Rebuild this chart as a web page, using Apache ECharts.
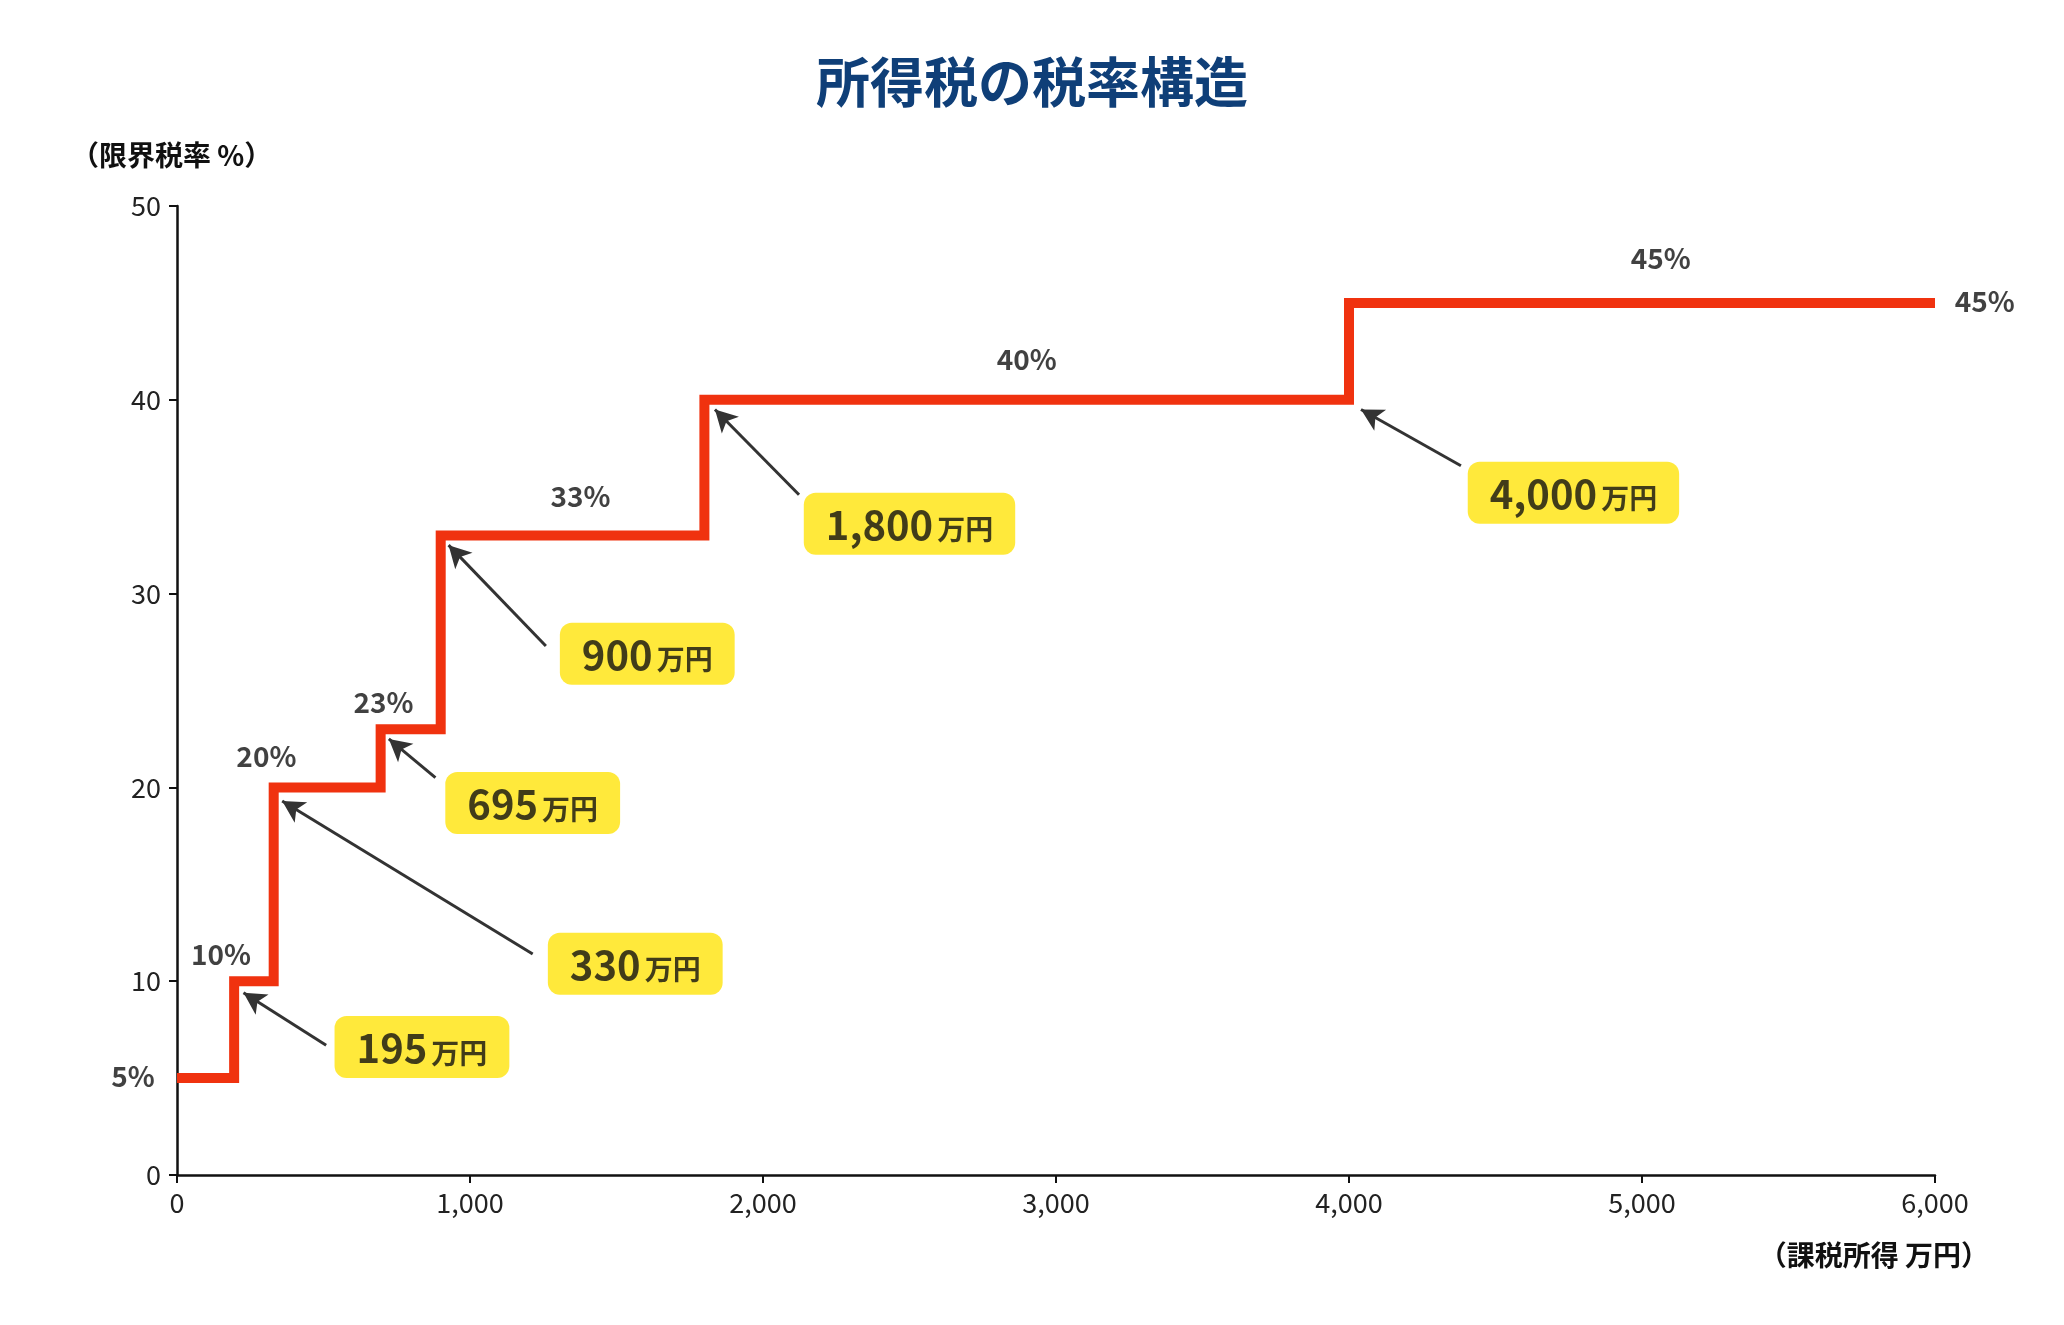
<!DOCTYPE html>
<html><head><meta charset="utf-8">
<script src="https://cdn.jsdelivr.net/npm/echarts@6/dist/echarts.min.js"></script>
<style>html,body{margin:0;padding:0;background:#fff}#c{width:2064px;height:1325px}</style>
</head><body><div id="c"></div>
<script>
const thresholds = [0, 195, 330, 695, 900, 1800, 4000, 6000];
const rates = [5, 10, 20, 23, 33, 40, 45];
const rateLabelPos = [[-150,5.1],[150,11.4],[305,21.6],[705,24.4],[1377,35],[2900,42.1],[5064,47.3],[6170,45.1]];
const rateLabelText = ['5%','10%','20%','23%','33%','40%','45%','45%'];
const calloutText = ['195','330','695','900','1,800','4,000'];
const calloutPos = [[836,6.6],[1564,10.9],[1214,19.2],[1605,26.9],[2500,33.6],[4766,35.2]];
const arrowFrom = [[509,6.7],[1214,11.4],[882,20.5],[1259,27.3],[2123,35.1],[4382,36.6]];
const arrowTo = [[227,9.4],[359,19.3],[723,22.5],[927,32.5],[1836,39.5],[4041,39.5]];
const xTicks = [0,1000,2000,3000,4000,5000,6000];

const stepData = [];
for (let i = 0; i < rates.length; i++) {
  stepData.push([thresholds[i], rates[i]]);
  stepData.push([thresholds[i+1], rates[i]]);
}
const font = '"Noto Sans CJK JP","Noto Sans",sans-serif';
const chart = echarts.init(document.getElementById('c'));
chart.setOption({
  animation:false,
  title:[
    {text:'所得税の税率構造',left:'center',top:50,textStyle:{fontFamily:font,fontSize:54,fontWeight:'bold',color:'#0f3f78'}},
    {text:'（限界税率 %）',left:66,top:136,textStyle:{fontFamily:font,fontSize:28,fontWeight:'bold',color:'#111'}},
    {text:'（課税所得 万円）',right:70,top:1236,textStyle:{fontFamily:font,fontSize:28,fontWeight:'bold',color:'#111'}}
  ],
  grid:{left:177,right:129,top:206,bottom:150,containLabel:false},
  xAxis:{type:'value',min:0,max:6000,interval:1000,
    axisLine:{lineStyle:{color:'#111',width:2.5}},axisTick:{show:true,length:8,lineStyle:{color:'#111',width:2}},
    splitLine:{show:false},
    axisLabel:{fontFamily:font,fontSize:27,color:'#222',margin:14,formatter:v=>v.toLocaleString('en-US')}},
  yAxis:{type:'value',min:0,max:50,interval:10,
    axisLine:{show:true,lineStyle:{color:'#111',width:2.5}},axisTick:{show:true,length:8,lineStyle:{color:'#111',width:2}},
    splitLine:{show:false},
    axisLabel:{fontFamily:font,fontSize:27,color:'#222',margin:16}},
  series:[
    {type:'line',data:stepData,symbol:'none',lineStyle:{color:'#f0320f',width:10,join:'miter'},z:3,
     markLine:{silent:true,symbol:['none','arrow'],symbolSize:[18,22],
       lineStyle:{color:'#333',width:3,type:'solid'},label:{show:false},
       data:arrowFrom.map((f,i)=>[{coord:f},{coord:arrowTo[i]}])}},
    {type:'scatter',data:rateLabelPos.map((p,i)=>({value:p,name:rateLabelText[i]})),symbolSize:0,clip:false,
     label:{show:true,position:'inside',formatter:p=>p.name,fontFamily:font,fontSize:28,fontWeight:'bold',color:'#111'}},
    {type:'scatter',data:calloutPos.map((p,i)=>({value:p,name:calloutText[i]})),symbolSize:0,clip:false,z:5,
     label:{show:true,position:'inside',formatter:p=>'{n|'+p.name+'}{u|万円}',
       backgroundColor:'#ffe40a',borderRadius:12,padding:[12,22,10,22],
       rich:{n:{fontFamily:font,fontSize:40,fontWeight:'bold',color:'#111'},
             u:{fontFamily:font,fontSize:28,fontWeight:'bold',color:'#111',padding:[10,0,0,4]}}}}
  ]
});
</script></body></html>
